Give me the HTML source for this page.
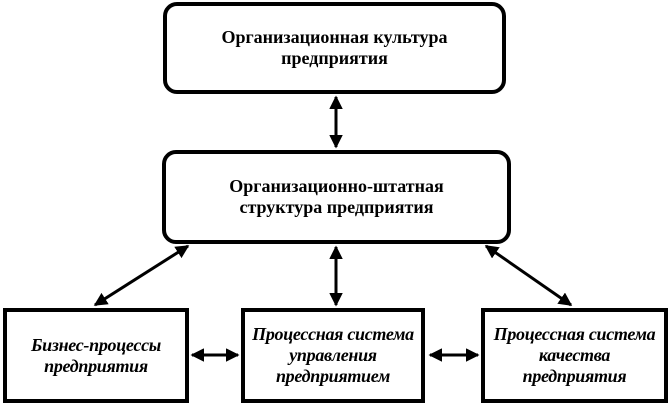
<!DOCTYPE html>
<html><head><meta charset="utf-8"><style>
body{margin:0;width:671px;height:405px;background:#fff;position:relative;overflow:hidden;font-family:"Liberation Serif",serif;font-weight:bold;color:#000}
.b{position:absolute;box-sizing:border-box;border:4px solid #000;display:flex;align-items:center;justify-content:center;text-align:center;font-size:18px;line-height:21px;white-space:nowrap}
.r{border-radius:14px}
.i{font-style:italic;letter-spacing:-0.3px}
svg{position:absolute;left:0;top:0}
</style></head><body>
<div class="b r" style="left:163px;top:2px;width:343px;height:92px">Организационная культура<br>предприятия</div>
<div class="b r" style="left:162px;top:150px;width:349px;height:94px">Организационно-штатная<br>структура предприятия</div>
<div class="b i" style="left:3px;top:308px;width:186px;height:95px">Бизнес-процессы<br>предприятия</div>
<div class="b i" style="left:241px;top:308px;width:184px;height:95px">Процессная система<br>управления<br>предприятием</div>
<div class="b i" style="left:481px;top:308px;width:187px;height:95px">Процессная система<br>качества<br>предприятия</div>
<svg width="671" height="405">
<defs><marker id="a" markerWidth="4.5" markerHeight="4.5" refX="4" refY="2.25" orient="auto-start-reverse" markerUnits="strokeWidth"><path d="M0,0L4.5,2.25L0,4.5z" fill="#000"/></marker></defs>
<g stroke="#000" stroke-width="3" marker-start="url(#a)" marker-end="url(#a)">
<line x1="336" y1="97" x2="336" y2="147"/>
<line x1="336" y1="247" x2="336" y2="305"/>
<line x1="188" y1="246" x2="95" y2="305"/>
<line x1="486" y1="246" x2="571" y2="305"/>
<line x1="192" y1="355" x2="238" y2="355"/>
<line x1="430" y1="355" x2="478" y2="355"/>
</g></svg>
</body></html>
